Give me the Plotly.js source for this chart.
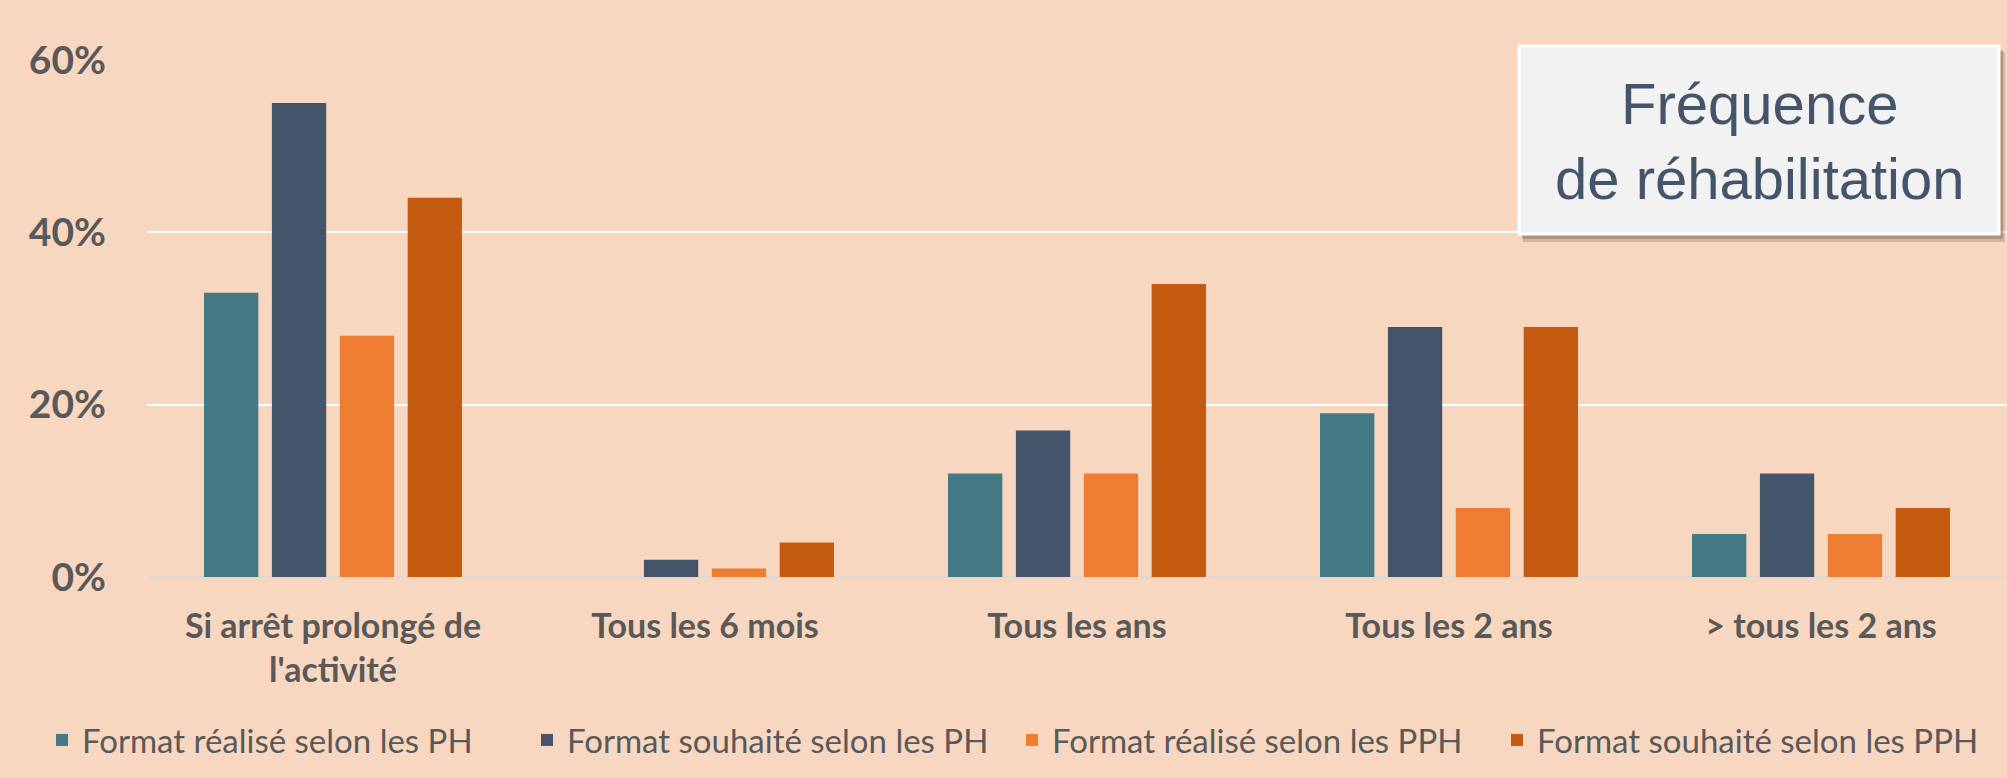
<!DOCTYPE html>
<html>
<head>
<meta charset="utf-8">
<script src="https://cdn.plot.ly/plotly-3.0.1.min.js"></script>
<style>html,body{margin:0;padding:0;background:#F8D7C1;}#chart{width:2007px;height:778px;}</style>
</head>
<body>
<div id="chart"></div>
<script>
const categories = ["Si arrêt prolongé de<br>l'activité", "Tous les 6 mois", "Tous les ans", "Tous les 2 ans", "> tous les 2 ans"];
const seriesNames = ["Format réalisé selon les PH", "Format souhaité selon les PH", "Format réalisé selon les PPH", "Format souhaité selon les PPH"];
const realisePH   = [0.33, 0, 0.12, 0.19, 0.05];
const souhaitePH  = [0.55, 0.02, 0.17, 0.29, 0.12];
const realisePPH  = [0.28, 0.01, 0.12, 0.08, 0.05];
const souhaitePPH = [0.44, 0.04, 0.34, 0.29, 0.08];
const yTicks = [0, 0.2, 0.4, 0.6];
const yTickText = ["0%", "20%", "40%", "60%"];
const colors = ["#427985", "#44546A", "#ED7D31", "#C55A11"];
const titleText = "Fréquence<br>de réhabilitation";

const W = 2007, H = 778;
const M = {l: 147, r: 0, t: 60, b: 201};
const PW = W - M.l - M.r, PH = H - M.t - M.b;
const px = x => (x - M.l) / PW;
const py = y => (H - M.b - y) / PH;

const allSeries = [realisePH, souhaitePH, realisePPH, souhaitePPH];
const traces = allSeries.map((vals, i) => ({
  type: 'bar', x: categories, y: vals, name: seriesNames[i],
  marker: {color: colors[i]}, hoverinfo: 'skip'
}));

const layout = {
  width: W, height: H,
  margin: M,
  paper_bgcolor: '#F8D7C1', plot_bgcolor: '#F8D7C1',
  barmode: 'group', bargap: 0.27, bargroupgap: 0.2,
  font: {family: 'Lato, sans-serif', color: '#595959'},
  xaxis: {
    type: 'category', showgrid: false, showline: false, zeroline: false,
    ticks: '', ticklabelstandoff: 26,
    tickfont: {family: 'Lato, sans-serif', size: 34, color: '#595959', weight: 'bold'}
  },
  yaxis: {
    range: [0, 0.6], tickvals: yTicks, ticktext: yTickText,
    showgrid: true, gridcolor: '#FFFFFF', gridwidth: 2,
    zeroline: true, zerolinecolor: '#D9D9D9', zerolinewidth: 2,
    showline: false, ticks: '', ticklabelstandoff: 40,
    tickfont: {family: 'Lato, sans-serif', size: 39, color: '#595959', weight: 'bold'}
  },
  showlegend: true,
  legend: {
    orientation: 'h', x: px(42), xanchor: 'left', y: py(740), yanchor: 'middle',
    font: {family: 'Lato, sans-serif', size: 33, color: '#595959'},
    bgcolor: 'rgba(0,0,0,0)', itemwidth: 30, traceorder: 'normal',
    entrywidth: 440, entrywidthmode: 'pixels'
  },
  shapes: [
    {type: 'rect', xref: 'paper', yref: 'paper', x0: px(1523), x1: px(2005), y0: py(242), y1: py(52), fillcolor: 'rgba(110,80,60,0.25)', line: {width: 0}, layer: 'above'},
    {type: 'rect', xref: 'paper', yref: 'paper', x0: px(1522), x1: px(2003), y0: py(239), y1: py(50), fillcolor: 'rgba(110,80,60,0.35)', line: {width: 0}, layer: 'above'},
    {type: 'rect', xref: 'paper', yref: 'paper', x0: px(1519), x1: px(1999), y0: py(234), y1: py(46), fillcolor: '#F2F2F2', line: {color: '#FFFFFF', width: 3}, layer: 'above'}
  ],
  annotations: [
    {xref: 'paper', yref: 'paper', x: px(1760), y: py(141), xanchor: 'center', yanchor: 'middle',
     text: titleText, showarrow: false, align: 'center',
     font: {family: 'Liberation Sans, Arial, sans-serif', size: 58, color: '#44546A'}}
  ]
};

Plotly.newPlot('chart', traces, layout, {displayModeBar: false, staticPlot: true});
</script>
</body>
</html>
